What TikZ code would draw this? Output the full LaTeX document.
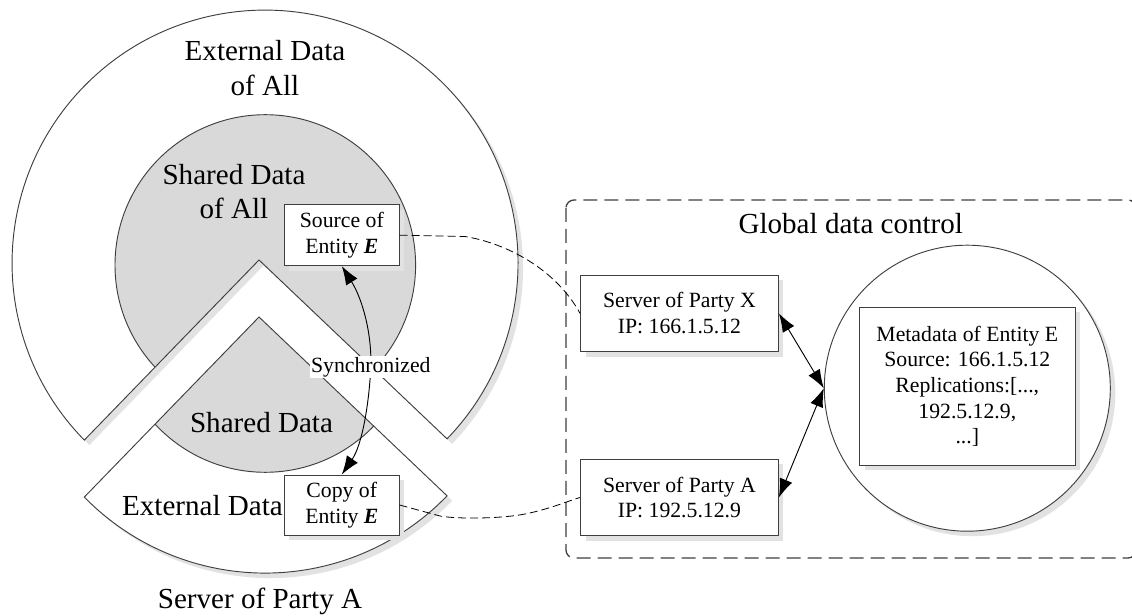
\documentclass[tikz,border=0pt]{standalone}
\usepackage{fontspec}
\setmainfont{Liberation Serif}
\usetikzlibrary{arrows.meta,shadows}
\definecolor{shadecol}{HTML}{E2E2E2}
\definecolor{greyfill}{HTML}{D9D9D9}
\definecolor{edgecol}{HTML}{3F3F3F}
\begin{document}
\begin{tikzpicture}[x=0.75pt,y=-0.75pt,
  outline/.style={draw=edgecol,line width=0.7pt},
  bigtxt/.style={font=\fontsize{21.8}{26}\selectfont,align=center,inner sep=0pt},
  smalltxt/.style={font=\fontsize{16.3}{19.3}\selectfont,align=center},
  boxshadow/.style={drop shadow={shadow xshift=3.75pt,shadow yshift=-3.75pt,opacity=1,fill=shadecol,draw=none}},
  box/.style={draw=edgecol,line width=0.7pt,fill=white,smalltxt,inner sep=0pt,boxshadow},
  biarrow/.style={{Latex[length=14pt,width=10pt]}-{Latex[length=14pt,width=10pt]},line width=0.7pt,black},
  dashlink/.style={draw=black,line width=0.6pt,dash pattern=on 6pt off 3pt},
  framestyle/.style={draw=edgecol,line width=1pt,dash pattern=on 10.5pt off 5.25pt,rounded corners=6pt}
]
\useasboundingbox (0,0) rectangle (1132,616);
\fill[white] (0,0) rectangle (1132,616);

% ---------- shadows of the pie shapes ----------
\fill[shadecol,shift={(5,5)}] (259,260) -- (84.3,440.1) arc[start angle=135.6,end angle=404,radius=253] -- cycle;
\fill[shadecol,shift={(5,5)}] (259,317) -- (84.3,497.1) arc[start angle=135.6,end angle=44,radius=253] -- cycle;

% ---------- outer shape: data of all ----------
\fill[white] (259,260) -- (84.3,440.1) arc[start angle=135.6,end angle=404,radius=253] -- cycle;
\begin{scope}
  \clip (259,260) -- (84.3,440.1) arc[start angle=135.6,end angle=404,radius=253] -- cycle;
  \fill[greyfill] (265.3,265) circle[radius=150.3];
  \draw[outline] (265.3,265) circle[radius=150.3];
\end{scope}
\draw[outline] (259,260) -- (84.3,440.1) arc[start angle=135.6,end angle=404,radius=253] -- cycle;

% ---------- sector: server of party A ----------
\fill[white] (259,317) -- (84.3,497.1) arc[start angle=135.6,end angle=44,radius=253] -- cycle;
\begin{scope}
  \clip (259,317) -- (84.3,497.1) arc[start angle=135.6,end angle=44,radius=253] -- cycle;
  \fill[greyfill] (265.3,322) circle[radius=150.3];
  \draw[outline] (265.3,322) circle[radius=150.3];
\end{scope}
\draw[outline] (259,317) -- (84.3,497.1) arc[start angle=135.6,end angle=44,radius=253] -- cycle;

% ---------- labels left ----------
\node[bigtxt] (extall) at (265,68) {External Data\\of All};
\node[bigtxt] (shall) at (234,191.5) {Shared Data\\of All};
\node[bigtxt] (shA) at (261.5,422.5) {Shared Data};
\node[bigtxt] (extA) at (202.5,505.5) {External Data};
\node[bigtxt] (srvAlabel) at (260,601.5) {Server of Party A};

\node[box,minimum width=86pt,minimum height=45.7pt] (src) at (341.8,235.15) {Source of\\Entity \textbf{\textit{E}}};
\node[box,minimum width=86pt,minimum height=45pt] (cpy) at (341.8,505) {Copy of\\Entity \textbf{\textit{E}}};

% ---------- global data control ----------
\draw[framestyle] (566,200) rectangle (1136,558);
\node[bigtxt] (gdc) at (850.8,224) {Global data control};

\node[box,minimum width=148.4pt,minimum height=57.5pt] (sx) at (679.45,313.35) {Server of Party X\\IP: 166.1.5.12};
\node[box,minimum width=148.4pt,minimum height=57.3pt] (sa) at (679.45,497.5) {Server of Party A\\IP: 192.5.12.9};

\node[circle,draw=edgecol,line width=0.7pt,fill=white,minimum size=214.5pt,inner sep=0pt,boxshadow] (mc) at (967.3,388.2) {};
\node[box,minimum width=161.6pt,minimum height=118.5pt] (meta) at (967.3,386.3) {Metadata of Entity E\\Source: 166.1.5.12\\Replications:[...,\\192.5.12.9,\\...]};

% ---------- connectors ----------
\draw[biarrow] (sx.east) -- (mc.west);
\draw[biarrow] (sa.east) -- (mc.west);

\draw[dashlink] (src.east) -- (465,236.5) .. controls (505,243) and (555,268) .. (sx.west);
\draw[dashlink] (cpy.east) -- (440,516) .. controls (455,519) and (500,519) .. (525,514) .. controls (550,509) and (568,501) .. (sa.west);

\draw[biarrow] (src.south) .. controls (363,300) and (372,335) .. (370.8,367)
  node[fill=white,smalltxt,inner sep=1pt] (synclab) {Synchronized}
  .. controls (369,405) and (362,445) .. (cpy.north);
\end{tikzpicture}
\end{document}
